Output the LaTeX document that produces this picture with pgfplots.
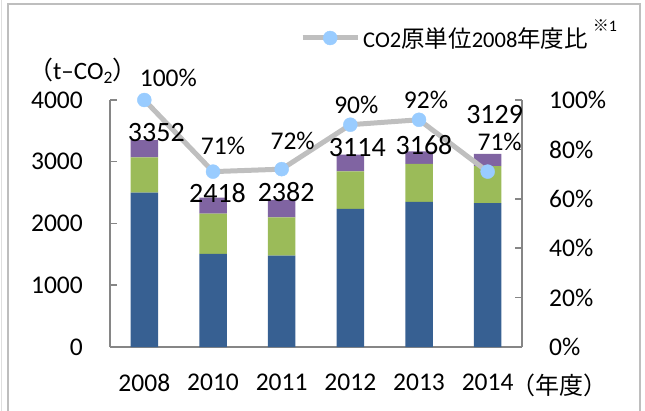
\documentclass[border=0pt]{standalone}
\usepackage{fontspec}
\setmainfont{Carlito}
\newfontfamily\cjk{Noto Sans CJK JP}
\usepackage{pgfplots}
\pgfplotsset{compat=1.18}
\definecolor{cblue}{RGB}{55,96,146}
\definecolor{cgreen}{RGB}{155,187,89}
\definecolor{cpurple}{RGB}{128,100,162}
\definecolor{lgray}{RGB}{191,191,191}
\definecolor{mblue}{RGB}{153,204,255}
\definecolor{axgray}{RGB}{134,134,134}
\definecolor{framec}{RGB}{190,190,190}
\begin{document}
\begin{tikzpicture}[x=1bp,y=1bp]
\pgfplotsset{
  base/.style={scale only axis, width=412bp, height=247bp, at={(110bp,64bp)}, anchor=south west,
    xmin=-0.5, xmax=5.5, tick align=inside, major tick length=7bp,
    axis line style={axgray, line width=1.5bp},
    every tick/.style={axgray, line width=1.5bp},
    tick label style={font=\fontsize{25.5bp}{30bp}\selectfont, inner sep=0pt},
    /pgf/number format/assume math mode=true,
    /pgf/number format/set thousands separator={},
    clip=false},
}
\begin{axis}[base, ybar stacked, bar width=27.5bp, ymin=0, ymax=4000,
  ytick={0,1000,2000,3000,4000}, scaled y ticks=false,
  axis x line*=bottom, axis y line*=left,
  xtick=data, xticklabels={2008,2010,2011,2012,2013,2014},
  x tick style={draw=none},
  yticklabel style={xshift=-27bp},
  xticklabel style={yshift=-27bp}]
\addplot[fill=cblue, draw=none] coordinates {(0,2500)(1,1510)(2,1480)(3,2235)(4,2350)(5,2330)};
\addplot[fill=cgreen, draw=none] coordinates {(0,572)(1,650)(2,620)(3,610)(4,615)(5,600)};
\addplot[fill=cpurple, draw=none] coordinates {(0,280)(1,258)(2,282)(3,269)(4,203)(5,199)};
\coordinate (t0) at (axis cs:0,3352);
\coordinate (t1) at (axis cs:1,2418);
\coordinate (t2) at (axis cs:2,2382);
\coordinate (t3) at (axis cs:3,3114);
\coordinate (t4) at (axis cs:4,3168);
\coordinate (t5) at (axis cs:5,3129);
\end{axis}
\begin{axis}[base, ymin=0, ymax=100,
  ytick={0,20,40,60,80,100}, yticklabels={0\%,20\%,40\%,60\%,80\%,100\%},
  axis y line*=right, axis x line=none,
  yticklabel style={xshift=27bp},
  legend style={at={(axis description cs:0.4612,1.251)}, anchor=west, draw=none, fill=none,
    inner sep=0pt, nodes={inner sep=0pt}, column sep=3bp,
    font=\fontsize{22.5bp}{28bp}\selectfont, legend cell align=left},
  legend image code/.code={\draw[mark repeat=2,mark phase=2,#1] plot coordinates {(0bp,0bp)(27.5bp,0bp)(55bp,0bp)};}]
\addplot[lgray, line width=5bp, line join=round, mark=*, mark size=7bp,
  mark options={draw=mblue, fill=mblue, line width=0.4bp}]
  coordinates {(0,100)(1,71)(2,72)(3,90)(4,92)(5,71)};
\addlegendentry{CO2{\cjk\fontsize{23.5bp}{28bp}\selectfont 原単位}2008{\cjk\fontsize{23.5bp}{28bp}\selectfont 年度比}}
\coordinate (p0) at (axis cs:0,100);
\coordinate (p1) at (axis cs:1,71);
\coordinate (p2) at (axis cs:2,72);
\coordinate (p3) at (axis cs:3,90);
\coordinate (p4) at (axis cs:4,92);
\coordinate (p5) at (axis cs:5,71);
\end{axis}
\begin{scope}[every node/.style={font=\fontsize{28bp}{32bp}\selectfont, inner sep=0pt}]
\node[xshift=12bp, yshift=8bp] at (t0) {3352};
\node[xshift=4.5bp, yshift=5bp] at (t1) {2418};
\node[xshift=4.5bp, yshift=8bp] at (t2) {2382};
\node[xshift=7bp, yshift=7bp] at (t3) {3114};
\node[xshift=5bp, yshift=6bp] at (t4) {3168};
\node[xshift=7bp, yshift=39bp] at (t5) {3129};
\end{scope}
\begin{scope}[every node/.style={font=\fontsize{25.5bp}{30bp}\selectfont, inner sep=0pt}]
\node[xshift=24bp, yshift=22bp] at (p0) {100\%};
\node[xshift=10bp, yshift=26bp] at (p1) {71\%};
\node[xshift=11bp, yshift=28bp] at (p2) {72\%};
\node[xshift=6bp, yshift=20bp] at (p3) {90\%};
\node[xshift=7bp, yshift=20bp] at (p4) {92\%};
\node[xshift=12bp, yshift=30bp] at (p5) {71\%};
\end{scope}
\node[font=\fontsize{25bp}{30bp}\selectfont, inner sep=0pt] at (83bp,340bp) {{\cjk （}t–CO\textsubscript{2}{\cjk ）}};
\node[font=\fontsize{24bp}{30bp}\selectfont, inner sep=0pt] at (559bp,26bp) {\cjk （年度）};
\node[font=\fontsize{16bp}{18bp}\selectfont, inner sep=0pt] at (605bp,385bp) {{\cjk ※}1};
\draw[framec, line width=2bp] (8bp,-3bp) -- (8bp,407bp) -- (640bp,407bp) -- (640bp,-3bp);
\draw[framec!50, line width=1bp] (1bp,-3bp) -- (1bp,414bp);
\pgfresetboundingbox
\path[use as bounding box] (0,0) rectangle (645bp,411bp);
\end{tikzpicture}
\end{document}
